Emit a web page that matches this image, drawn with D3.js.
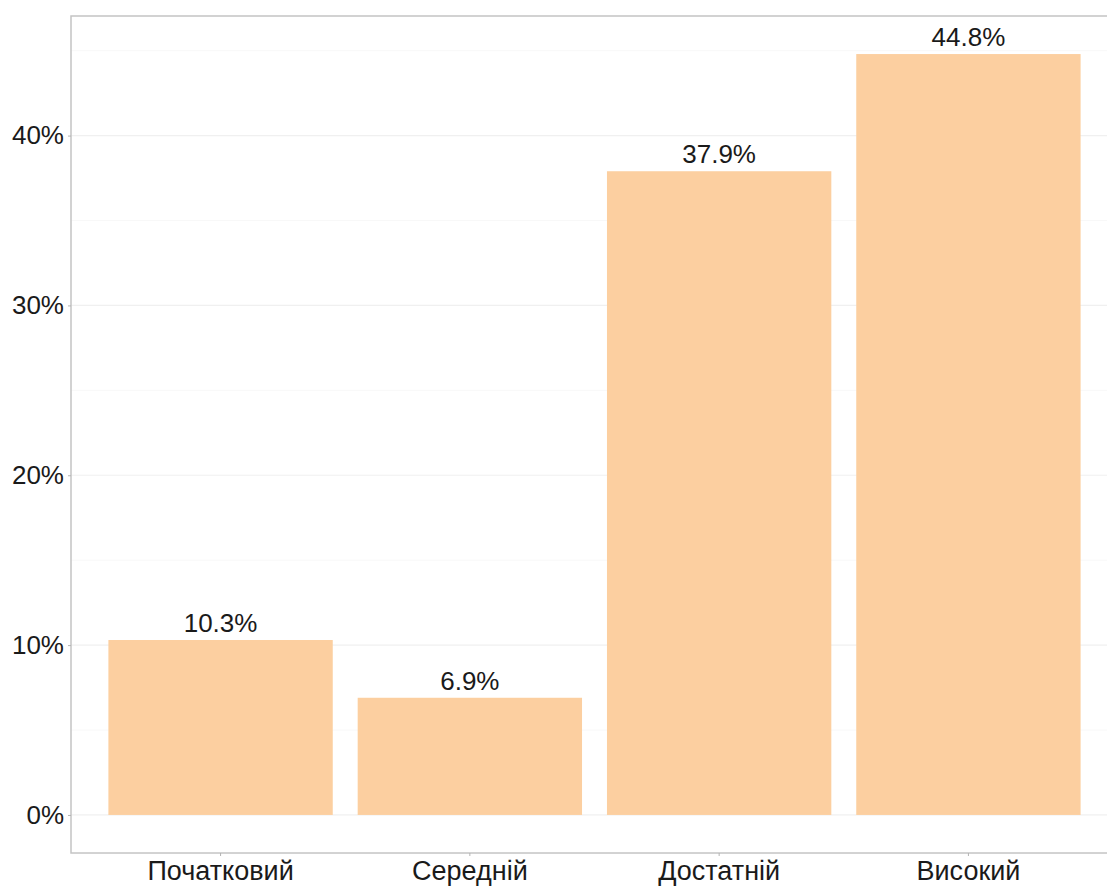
<!DOCTYPE html>
<html>
<head>
<meta charset="utf-8">
<script src="https://cdn.jsdelivr.net/npm/d3@7"></script>
<style>
  body { margin: 0; background: #fff; }
  svg { display: block; font-family: "Liberation Sans", Arial, sans-serif; }
</style>
</head>
<body>
<svg id="chart" width="1107" height="886"></svg>
<script>
const categories = ["Початковий", "Середній", "Достатній", "Високий"];
const values = [10.3, 6.9, 37.9, 44.8];
const valueLabels = ["10.3%", "6.9%", "37.9%", "44.8%"];
const majorTicks = [0, 10, 20, 30, 40];
const minorTicks = [5, 15, 25, 35, 45];
const tickLabels = ["0%", "10%", "20%", "30%", "40%"];

(function () {
const svg = d3.select("#chart");
const pLeft = 71, pRight = 1118, pTop = 16, pBottom = 853;

const maxV = d3.max(values);
const expand = maxV * 0.05;
const y = d3.scaleLinear().domain([-expand, maxV + expand]).range([pBottom, pTop]);

const step = (pRight - pLeft) / (categories.length - 1 + 1.2);
const x = d3.scaleBand().domain(categories)
  .range([pLeft + 0.1 * step, pRight - 0.1 * step])
  .paddingInner(0.1).paddingOuter(0.05);

const g = svg.append("g");

g.selectAll("line.minor").data(minorTicks).join("line")
  .attr("class", "minor")
  .attr("x1", pLeft).attr("x2", pRight)
  .attr("y1", d => y(d)).attr("y2", d => y(d))
  .attr("stroke", "#f8f8f8").attr("stroke-width", 1);
g.selectAll("line.major").data(majorTicks).join("line")
  .attr("class", "major")
  .attr("x1", pLeft).attr("x2", pRight)
  .attr("y1", d => y(d)).attr("y2", d => y(d))
  .attr("stroke", "#f0f0f0").attr("stroke-width", 1.2);

g.selectAll("rect.bar").data(values).join("rect")
  .attr("class", "bar")
  .attr("x", (d, i) => x(categories[i]))
  .attr("width", x.bandwidth())
  .attr("y", d => y(d))
  .attr("height", d => y(0) - y(d))
  .attr("fill", "#FCCFA0");

g.selectAll("text.val").data(values).join("text")
  .attr("class", "val")
  .attr("x", (d, i) => x(categories[i]) + x.bandwidth() / 2)
  .attr("y", d => y(d) - 8)
  .attr("text-anchor", "middle")
  .attr("font-size", 26)
  .attr("fill", "#1a1a1a")
  .text((d, i) => valueLabels[i]);

g.append("rect")
  .attr("x", pLeft).attr("y", pTop)
  .attr("width", pRight - pLeft).attr("height", pBottom - pTop)
  .attr("fill", "none").attr("stroke", "#c4c4c4").attr("stroke-width", 1.5);

const yAxis = d3.axisLeft(y).tickValues(majorTicks).tickFormat((d, i) => tickLabels[i]).tickSize(3).tickPadding(4);
const ya = svg.append("g").attr("transform", `translate(${pLeft},0)`).call(yAxis);
ya.select(".domain").remove();
ya.selectAll(".tick line").attr("stroke", "#b3b3b3");
ya.selectAll(".tick text").attr("font-size", 26).attr("fill", "#1a1a1a").attr("font-family", "Liberation Sans, Arial, sans-serif");

const xAxis = d3.axisBottom(x).tickSize(3).tickPadding(5);
const xa = svg.append("g").attr("transform", `translate(0,${pBottom})`).call(xAxis);
xa.select(".domain").remove();
xa.selectAll(".tick line").attr("stroke", "#b3b3b3");
xa.selectAll(".tick text").attr("font-size", 27).attr("fill", "#1a1a1a").attr("font-family", "Liberation Sans, Arial, sans-serif");
})();
</script>
</body>
</html>
